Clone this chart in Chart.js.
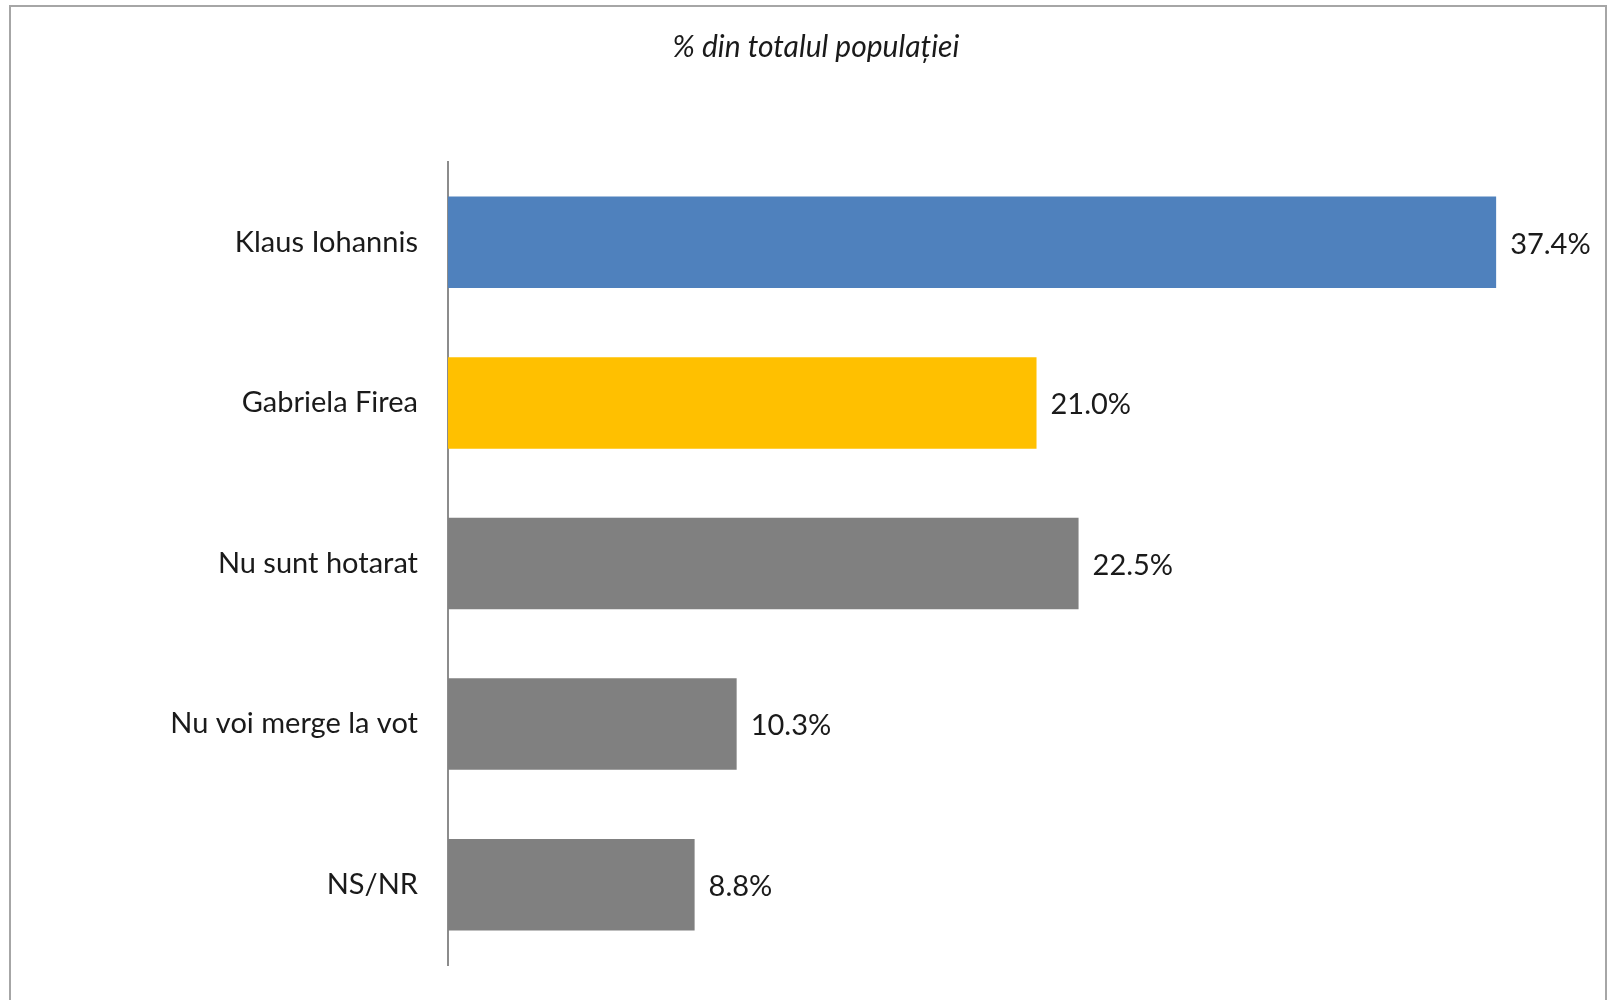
<!DOCTYPE html>
<html>
<head>
<meta charset="utf-8">
<script src="https://cdn.jsdelivr.net/npm/chart.js@4.4.0/dist/chart.umd.min.js"></script>
<style>
  html, body { margin: 0; padding: 0; background: #fff; overflow: hidden; }
  #wrap { position: relative; width: 1612px; height: 1000px; }
  #frame { position: absolute; left: 9px; top: 5px; width: 1598px; height: 1100px; border: 2px solid #a6a6a6; box-sizing: border-box; }
  canvas { position: absolute; left: 0; top: 0; }
</style>
</head>
<body>
<div id="wrap">
  <div id="frame"></div>
  <canvas id="myChart" width="1612" height="1000"></canvas>
</div>
<script>
const categories = ["Klaus Iohannis", "Gabriela Firea", "Nu sunt hotarat", "Nu voi merge la vot", "NS/NR"];
const values = [37.4, 21.0, 22.5, 10.3, 8.8];
const barColors = ["#4f81bd", "#ffc000", "#808080", "#808080", "#808080"];
const titleText = "% din totalul populației";

const FONT = "Lato, 'Open Sans', sans-serif";

// title is not centred on the canvas, so draw it by hand
const chartTitle = {
  id: "chartTitle",
  afterDraw(chart) {
    const c = chart.ctx;
    c.save();
    c.font = "italic 30px " + FONT;
    c.fillStyle = "#1a1a1a";
    c.textAlign = "center";
    c.textBaseline = "alphabetic";
    c.fillText(titleText, 816, 57);
    c.restore();
  },
};

// write the value at the end of each bar
const valueLabels = {
  id: "valueLabels",
  afterDatasetsDraw(chart) {
    const c = chart.ctx;
    const meta = chart.getDatasetMeta(0);
    c.save();
    c.font = "29px " + FONT;
    c.fillStyle = "#1a1a1a";
    c.textAlign = "left";
    c.textBaseline = "middle";
    meta.data.forEach(function (bar, i) {
      c.fillText(values[i].toFixed(1) + "%", bar.x + 14, bar.y + 2);
    });
    c.restore();
  },
};

const ctx = document.getElementById("myChart");

var chart = new Chart(ctx, {
  type: "bar",
  data: {
    labels: categories,
    datasets: [
      {
        data: values,
        backgroundColor: barColors,
        borderWidth: 0,
        categoryPercentage: 1,
        barPercentage: 0.57,
      },
    ],
  },
  plugins: [valueLabels, chartTitle],
  options: {
    indexAxis: "y",
    responsive: false,
    animation: false,
    layout: {
      padding: { top: 162, right: 43, bottom: 35, left: 0 },
    },
    plugins: {
      legend: { display: false },
      tooltip: { enabled: false },
      title: { display: false },
    },
    scales: {
      x: {
        display: false,
        min: 0,
        max: 40,
      },
      y: {
        afterFit(scale) {
          scale.width = 448;
          scale.paddingTop = 0;
          scale.paddingBottom = 0;
        },
        grid: { display: false, drawTicks: false },
        border: { display: true, color: "#8c8c8c", width: 2 },
        ticks: {
          color: "#1a1a1a",
          padding: 30,
          font: { family: FONT, size: 29 },
        },
      },
    },
  },
});
</script>
</body>
</html>
